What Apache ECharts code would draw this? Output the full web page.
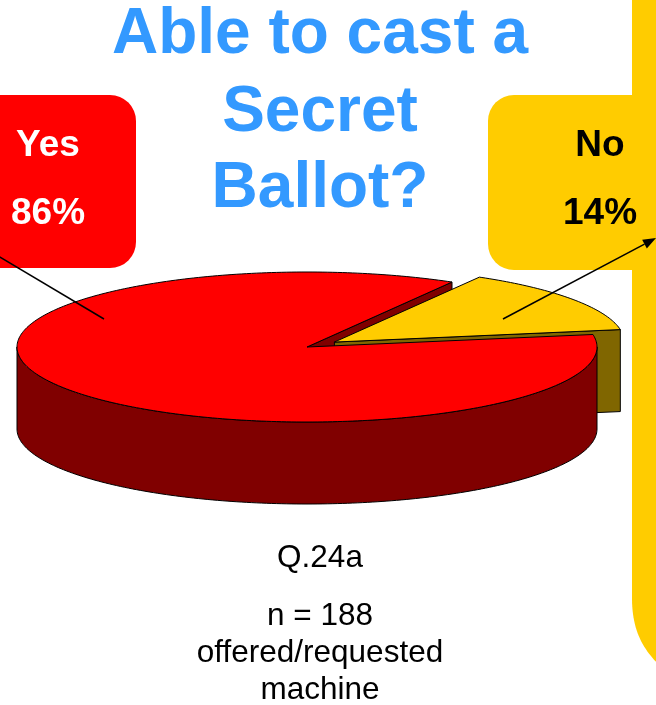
<!DOCTYPE html>
<html>
<head>
<meta charset="utf-8">
<title>Able to cast a Secret Ballot?</title>
<script src="https://cdn.jsdelivr.net/npm/echarts@6/dist/echarts.min.js"></script>
<style>
  html, body { margin: 0; padding: 0; background: #ffffff; }
  #chart { width: 656px; height: 705px; }
</style>
</head>
<body>
<div id="chart"></div>
<script>
// Survey answers (percent of respondents)
const categories = ['Yes', 'No'];
const values = [86, 14];
const titleLines = ['Able to cast a', 'Secret', 'Ballot?'];
const footLines = ['Q.24a', 'n = 188', 'offered/requested', 'machine'];

// Slice styling
const topColors = ['#FF0000', '#FFCC00'];
const sideColors = ['#800000', '#806600'];
const explodeBy = [0, 0.115];

// 3D pie geometry (screen pixels)
const PIE = { cx: 307, cy: 347, rx: 290, ry: 75, depth: 82, startDeg: 60 };

const FONT = '"Liberation Sans", Arial, Helvetica, sans-serif';
const total = values.reduce((a, b) => a + b, 0);

// Angular span of each slice, counter-clockwise from the start angle
const spans = [];
(function () {
  let a = PIE.startDeg;
  values.forEach(v => {
    const sweep = v / total * 360;
    spans.push([a, a + sweep]);
    a += sweep;
  });
})();

function rad(d) { return d * Math.PI / 180; }

function renderSlice(params, api) {
  const i = params.dataIndex;
  const v = api.value(0);
  const a0 = spans[i][0];
  const a1 = a0 + v / total * 360;
  const mid = rad((a0 + a1) / 2);
  const ox = explodeBy[i] * PIE.rx * Math.cos(mid);
  const oy = -explodeBy[i] * PIE.ry * Math.sin(mid);
  const P = (deg, r, h) => [
    PIE.cx + ox + r * PIE.rx * Math.cos(rad(deg)),
    PIE.cy + oy - r * PIE.ry * Math.sin(rad(deg)) + h
  ];
  const edge = { stroke: '#000', lineWidth: 1, lineJoin: 'round' };
  const children = [];

  // radial cut faces that turn toward the viewer
  const radial = (deg) => {
    const pts = [P(deg, 0, 0), P(deg, 1, 0), P(deg, 1, PIE.depth), P(deg, 0, PIE.depth)];
    const midY = P(deg, 0.5, 0)[1];
    children.push({
      type: 'polygon', z2: Math.round(midY / 10),
      shape: { points: pts },
      style: Object.assign({ fill: sideColors[i] }, edge)
    });
  };
  if (Math.cos(rad(a0)) > 0) radial(a0);
  if (Math.cos(rad(a1)) < 0) radial(a1);

  // front outer wall: portion of the arc lying in the lower half
  const steps = [];
  for (let d = a0; d <= a1 + 1e-6; d += 1) steps.push(d);
  if (steps[steps.length - 1] < a1) steps.push(a1);
  let run = [];
  const flush = () => {
    if (run.length > 1) {
      const topArc = run.map(d => P(d, 1, 0));
      const botArc = run.slice().reverse().map(d => P(d, 1, PIE.depth));
      children.push({
        type: 'polygon', z2: 60,
        shape: { points: topArc.concat(botArc) },
        style: Object.assign({ fill: sideColors[i] }, edge)
      });
    }
    run = [];
  };
  steps.forEach(d => {
    if (Math.sin(rad(d)) <= 0.0001) run.push(d); else flush();
  });
  flush();

  // top face
  const topPts = [P(a0, 0, 0)].concat(steps.map(d => P(d, 1, 0)));
  children.push({
    type: 'polygon', z2: 100,
    shape: { points: topPts },
    style: Object.assign({ fill: topColors[i] }, edge)
  });

  return { type: 'group', children: children };
}

// cubic bezier sampler for the strip's rounded end
function bezier(p0, p1, p2, p3, n) {
  const out = [];
  for (let k = 0; k <= n; k++) {
    const t = k / n, u = 1 - t;
    out.push([
      u * u * u * p0[0] + 3 * u * u * t * p1[0] + 3 * u * t * t * p2[0] + t * t * t * p3[0],
      u * u * u * p0[1] + 3 * u * u * t * p1[1] + 3 * u * t * t * p2[1] + t * t * t * p3[1]
    ]);
  }
  return out;
}

const chart = echarts.init(document.getElementById('chart'), null, { renderer: 'canvas' });

const graphics = [];

// yellow side strip with rounded lower end
graphics.push({
  type: 'polygon', z: 1,
  shape: { points: [[632, 0], [660, 0]].concat(bezier([660, 666], [644, 650], [632, 632], [632, 598], 24)) },
  style: { fill: '#FFCC00' }
});

// answer call-out boxes
graphics.push({
  type: 'rect', z: 2,
  shape: { x: -40, y: 95, width: 176, height: 173, r: 26 },
  style: { fill: '#FF0000' }
});
graphics.push({
  type: 'rect', z: 2,
  shape: { x: 488, y: 95, width: 200, height: 175, r: 26 },
  style: { fill: '#FFCC00' }
});
const boxText = [
  { x: 48, color: '#FFFFFF' },
  { x: 600, color: '#000000' }
];
categories.forEach((c, i) => {
  graphics.push({
    type: 'text', z: 3, x: boxText[i].x, y: 146,
    style: { text: c, fill: boxText[i].color, font: 'bold 37px ' + FONT, align: 'center', verticalAlign: 'middle' }
  });
  graphics.push({
    type: 'text', z: 3, x: boxText[i].x, y: 214,
    style: { text: values[i] + '%', fill: boxText[i].color, font: 'bold 37px ' + FONT, align: 'center', verticalAlign: 'middle' }
  });
});

// leader lines
graphics.push({
  type: 'line', z: 5,
  shape: { x1: -2, y1: 256, x2: 104, y2: 319 },
  style: { stroke: '#000', lineWidth: 1.5 }
});
(function () {
  const x1 = 503, y1 = 319, x2 = 656, y2 = 238;
  const ang = Math.atan2(y2 - y1, x2 - x1);
  const L = 13, W = 5;
  const bx = x2 - L * Math.cos(ang), by = y2 - L * Math.sin(ang);
  graphics.push({
    type: 'line', z: 5,
    shape: { x1: x1, y1: y1, x2: bx, y2: by },
    style: { stroke: '#000', lineWidth: 1.5 }
  });
  graphics.push({
    type: 'polygon', z: 5,
    shape: { points: [[x2, y2],
      [bx + W * Math.sin(ang), by - W * Math.cos(ang)],
      [bx - W * Math.sin(ang), by + W * Math.cos(ang)]] },
    style: { fill: '#000' }
  });
})();

// title
const titleY = [35, 113, 189];
titleLines.forEach((t, i) => {
  graphics.push({
    type: 'text', z: 4, x: 320, y: titleY[i],
    style: { text: t, fill: '#3399FF', font: 'bold 64px ' + FONT, align: 'center', verticalAlign: 'middle' }
  });
});

// footnote
const footY = [558, 616, 653, 690];
footLines.forEach((t, i) => {
  graphics.push({
    type: 'text', z: 4, x: 320, y: footY[i],
    style: { text: t, fill: '#000000', font: '31.5px ' + FONT, align: 'center', verticalAlign: 'middle' }
  });
});

chart.setOption({
  animation: false,
  backgroundColor: '#FFFFFF',
  graphic: { elements: graphics },
  series: [{
    type: 'custom',
    coordinateSystem: 'none',
    z: 2,
    renderItem: renderSlice,
    data: values.map((v, i) => ({ name: categories[i], value: [v] }))
  }]
});
</script>
</body>
</html>
